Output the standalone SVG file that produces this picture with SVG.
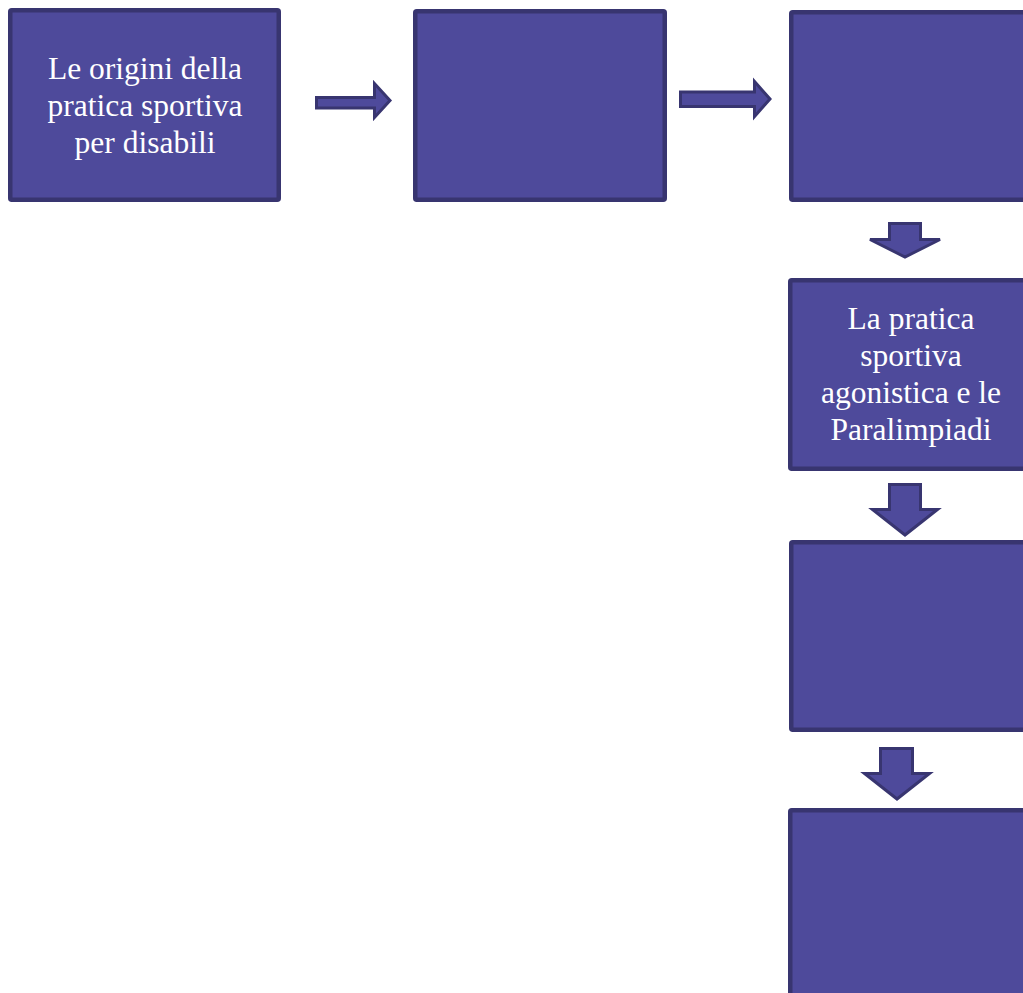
<svg xmlns="http://www.w3.org/2000/svg" width="1023" height="993" viewBox="0 0 1023 993">
<style>
.box{fill:#4E4A9B;stroke:#383570;stroke-width:4.5}
.arr{fill:#4E4A9B;stroke:#383570;stroke-width:3;stroke-linejoin:miter}
.t{font-size:31.5px;fill:#FFFFFF;text-anchor:middle}
</style>
<rect width="1023" height="993" fill="#FFFFFF"/>
<g id="connectors">
<polygon class="arr" points="316.5,97.5 374.5,97.5 374.5,83.5 390,100.5 374.5,117.5 374.5,108 316.5,108"/>
<polygon class="arr" points="680.5,92 754.5,92 754.5,81.5 770,99 754.5,116.5 754.5,106.5 680.5,106.5"/>
<polygon class="arr" points="889.5,223.5 920.5,223.5 920.5,239.5 940,239.5 905,257 870,239.5 889.5,239.5"/>
<polygon class="arr" points="889.5,484.5 920.5,484.5 920.5,509.5 937.5,509.5 905,535 872.5,509.5 889.5,509.5"/>
<polygon class="arr" points="880.5,748.5 912.5,748.5 912.5,773.5 929.5,773.5 897,799 864.5,773.5 880.5,773.5"/>
</g>
<g id="node1" font-family="'Liberation Serif', 'Times New Roman', 'DejaVu Serif', serif">
<rect class="box" x="10.25" y="10.25" width="268.5" height="189.5" rx="1.5"/>
<text class="t" x="145" y="79">Le origini della</text>
<text class="t" x="145" y="116">pratica sportiva</text>
<text class="t" x="145" y="153">per disabili</text>
</g>
<g id="node2">
<rect class="box" x="415.25" y="11.25" width="249.5" height="188.5" rx="1.5"/>
</g>
<g id="node3">
<rect class="box" x="791.25" y="12.25" width="242" height="187.5" rx="1.5"/>
</g>
<g id="node4" font-family="'Liberation Serif', 'Times New Roman', 'DejaVu Serif', serif">
<rect class="box" x="790.25" y="280.25" width="242" height="188.5" rx="1.5"/>
<text class="t" x="911" y="329">La pratica</text>
<text class="t" x="911" y="366">sportiva</text>
<text class="t" x="911" y="403">agonistica e le</text>
<text class="t" x="911" y="440">Paralimpiadi</text>
</g>
<g id="node5">
<rect class="box" x="791.25" y="542.25" width="242" height="187.5" rx="1.5"/>
</g>
<g id="node6">
<rect class="box" x="790.25" y="810.25" width="242" height="200" rx="1.5"/>
</g>
</svg>
